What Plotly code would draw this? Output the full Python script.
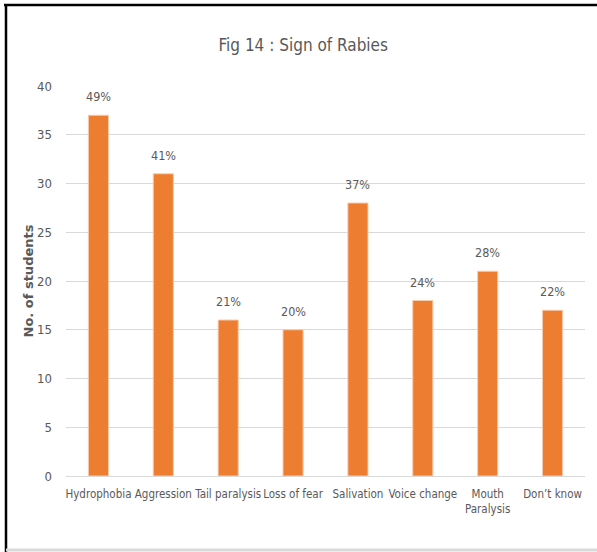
import plotly.graph_objects as go

categories = ["Hydrophobia", "Aggression", "Tail paralysis", "Loss of fear",
              "Salivation", "Voice change", "Mouth<br>Paralysis", "Don\u2019t know"]
students = [37, 31, 16, 15, 28, 18, 21, 17]
percent_labels = ["49%", "41%", "21%", "20%", "37%", "24%", "28%", "22%"]
y_ticks = [0, 5, 10, 15, 20, 25, 30, 35, 40]

FONT = "DejaVu Sans Condensed, Roboto, sans-serif"
GREY = "#595959"

fig = go.Figure()
fig.add_trace(go.Bar(
    x=categories, y=students,
    marker=dict(color="#ED7D31", line=dict(color="#F8CBAD", width=1)),
    hoverinfo="skip",
))

for c, v, t in zip(categories, students, percent_labels):
    fig.add_annotation(x=c, y=v, text=t, showarrow=False, yanchor="bottom",
                       yshift=9, font=dict(family=FONT, size=12.5, color=GREY))

fig.update_layout(
    width=597, height=552,
    margin=dict(l=66, r=12, t=86, b=76, autoexpand=False),
    paper_bgcolor="white", plot_bgcolor="white",
    bargap=0.69,
    showlegend=False,
    title=dict(text="Fig 14 : Sign of Rabies", x=0.508, xanchor="center",
               y=0.918, yanchor="middle",
               font=dict(family=FONT, size=17, color=GREY)),
    xaxis=dict(showgrid=False, showline=True, linecolor="#d9d9d9", linewidth=1,
               tickangle=0, automargin=False,
               tickfont=dict(family=FONT, size=11.5, color=GREY),
               ticklabelstandoff=7),
    yaxis=dict(range=[0, 40], tickvals=y_ticks, showgrid=True, automargin=False,
               gridcolor="#d9d9d9", gridwidth=1, zeroline=False,
               tickfont=dict(family=FONT, size=13, color=GREY),
               ticklabelstandoff=13,
               title=dict(text="<b>No. of students</b>", standoff=0,
                          font=dict(family="DejaVu Sans, Verdana, sans-serif",
                                    size=13, color=GREY))),
    shapes=[
        dict(type="line", xref="paper", yref="paper",
             x0=-62/519, x1=(597-66)/519 + 0.01, y0=1 + 81/390, y1=1 + 81/390,
             line=dict(color="black", width=2.5)),
        dict(type="line", xref="paper", yref="paper",
             x0=-60/519, x1=-60/519, y0=1 + 82/390, y1=-76/390,
             line=dict(color="black", width=2.5)),
        dict(type="line", xref="paper", yref="paper",
             x0=-60/519, x1=(597-66)/519 + 0.01, y0=-74/390, y1=-74/390,
             line=dict(color="#d9d9d9", width=3)),
    ],
)

fig.write_html("out.html", config={"displayModeBar": False},
               post_script="document.body.style.margin='0';document.body.style.overflow='hidden';")
